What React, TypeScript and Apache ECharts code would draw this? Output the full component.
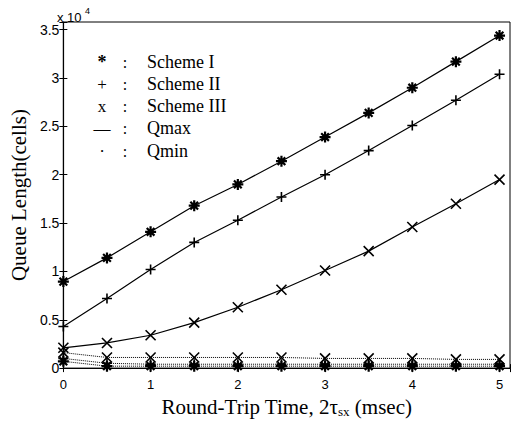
import React, { useEffect, useRef } from "react";
import * as echarts from "echarts";

// Round-trip time (msec)
const rtt = [0, 0.5, 1, 1.5, 2, 2.5, 3, 3.5, 4, 4.5, 5];
// Queue lengths in units of 1e4 cells
const schemeIQmax = [0.895, 1.14, 1.41, 1.68, 1.9, 2.14, 2.39, 2.64, 2.9, 3.17, 3.44];
const schemeIIQmax = [0.43, 0.72, 1.02, 1.3, 1.53, 1.77, 2.0, 2.25, 2.51, 2.77, 3.04];
const schemeIIIQmax = [0.21, 0.26, 0.34, 0.47, 0.63, 0.81, 1.01, 1.21, 1.46, 1.7, 1.95];
const schemeIQmin = [0.07, 0.02, 0.02, 0.02, 0.02, 0.02, 0.02, 0.02, 0.02, 0.02, 0.02];
const schemeIIQmin = [0.1, 0.05, 0.04, 0.04, 0.04, 0.04, 0.04, 0.04, 0.04, 0.04, 0.04];
const schemeIIIQmin = [0.16, 0.11, 0.11, 0.11, 0.11, 0.11, 0.1, 0.1, 0.1, 0.09, 0.09];

const legendSymbols = ["*", "+", "x", "—", "·"];
const legendLabels = ["Scheme I", "Scheme II", "Scheme III", "Qmax", "Qmin"];

const ASTERISK = "path://M5,0 L5,10 M0,5 L10,5 M1.5,1.5 L8.5,8.5 M8.5,1.5 L1.5,8.5";
const PLUS = "path://M5,0 L5,10 M0,5 L10,5";
const CROSS = "path://M0,0 L10,10 M10,0 L0,10";

const pts = (ys: number[]) => rtt.map((x, i) => [x, ys[i]]);

export default function App() {
  const ref = useRef<HTMLDivElement>(null);
  useEffect(() => {
    if (!ref.current) return;
    const chart = echarts.init(ref.current, null, { renderer: "svg" });
    const mk = (
      name: string,
      ys: number[],
      symbol: string,
      size: number,
      bw: number,
      dotted: boolean
    ) => ({
      name,
      type: "line",
      data: pts(ys),
      symbol,
      symbolSize: size,
      showAllSymbol: true,
      lineStyle: { color: "#000", width: dotted ? 1 : 1.2, type: dotted ? "dotted" : "solid" },
      itemStyle: { color: "#000", borderColor: "#000", borderWidth: bw },
      z: dotted ? 2 : 3,
    });
    const serif = "'Liberation Serif', 'DejaVu Serif', serif";
    const sans = "'Liberation Sans', Arial, sans-serif";
    const rowY = [62, 84, 106, 128, 151];
    const legendEls: any[] = [];
    legendLabels.forEach((lab, i) => {
      legendEls.push({
        type: "text",
        x: 102,
        y: rowY[i],
        style: {
          text: legendSymbols[i],
          font: i === 0 ? "bold 18px " + serif : "17px " + serif,
          fill: "#000",
          align: "center",
          verticalAlign: "middle",
        },
      });
      legendEls.push({
        type: "text",
        x: 125,
        y: rowY[i],
        style: { text: ":", font: "16px " + serif, fill: "#000", align: "center", verticalAlign: "middle" },
      });
      legendEls.push({
        type: "text",
        x: 147,
        y: rowY[i],
        style: { text: lab, font: "18px " + serif, fill: "#000", align: "left", verticalAlign: "middle" },
      });
    });
    const option: any = {
      animation: false,
      grid: { left: 59, right: 2, top: 22, bottom: 45, show: true, borderColor: "#000", borderWidth: 1 },
      xAxis: [
        {
          type: "value",
          min: 0,
          max: 5.12,
          interval: 1,
          splitLine: { show: false },
          axisLine: { lineStyle: { color: "#000", width: 1.2 } },
          axisTick: { inside: true, length: 4, lineStyle: { color: "#000" } },
          axisLabel: {
            color: "#000",
            fontFamily: sans,
            fontSize: 13,
            margin: 10,
            formatter: (v: number) => (Math.abs(v - Math.round(v)) < 1e-6 ? String(Math.round(v)) : ""),
          },
          name: "Round-Trip Time, 2τ{sub|sx} (msec)",
          nameLocation: "middle",
          nameGap: 18,
          nameTextStyle: {
            color: "#000",
            fontFamily: serif,
            fontSize: 21,
            rich: {
              sub: { fontFamily: serif, fontSize: 13, color: "#000", padding: [10, 0, 0, 0] },
            },
          },
        },
        {
          type: "value",
          position: "top",
          min: 0,
          max: 5.12,
          interval: 1,
          splitLine: { show: false },
          axisLine: { show: false },
          axisTick: { inside: true, length: 4, lineStyle: { color: "#000" } },
          axisLabel: { show: false },
        },
      ],
      yAxis: [
        {
          type: "value",
          min: 0,
          max: 3.58,
          interval: 0.5,
          splitLine: { show: false },
          axisLine: { show: true, lineStyle: { color: "#000", width: 1.2 } },
          axisTick: { inside: true, length: 4, lineStyle: { color: "#000" } },
          axisLabel: {
            color: "#000",
            fontFamily: sans,
            fontSize: 14,
            margin: 4,
            formatter: (v: number) => (v > 3.51 ? "" : String(v)),
          },
          name: "Queue Length(cells)",
          nameLocation: "middle",
          nameGap: 32,
          nameTextStyle: { color: "#000", fontFamily: serif, fontSize: 21 },
        },
        {
          type: "value",
          position: "right",
          min: 0,
          max: 3.58,
          interval: 0.5,
          splitLine: { show: false },
          axisLine: { show: false },
          axisTick: { inside: true, length: 4, lineStyle: { color: "#000" } },
          axisLabel: { show: false },
        },
      ],
      graphic: [
        {
          type: "text",
          x: 57,
          y: 17,
          style: { text: "x 10", font: "13px " + sans, fill: "#000", verticalAlign: "middle" },
        },
        {
          type: "text",
          x: 85,
          y: 11,
          style: { text: "4", font: "9px " + sans, fill: "#000", verticalAlign: "middle" },
        },
        ...legendEls,
      ],
      series: [
        mk("Scheme I Qmax", schemeIQmax, ASTERISK, 11, 2.2, false),
        mk("Scheme II Qmax", schemeIIQmax, PLUS, 10, 1.6, false),
        mk("Scheme III Qmax", schemeIIIQmax, CROSS, 10, 1.6, false),
        mk("Scheme I Qmin", schemeIQmin, ASTERISK, 11, 2.2, true),
        mk("Scheme II Qmin", schemeIIQmin, PLUS, 10, 1.6, true),
        mk("Scheme III Qmin", schemeIIIQmin, CROSS, 10, 1.6, true),
      ],
    };
    chart.setOption(option);
    return () => chart.dispose();
  }, []);
  return (
    <div
      ref={ref}
      style={{ position: "fixed", left: 0, top: 0, width: 513, height: 423, background: "#fff" }}
    />
  );
}
